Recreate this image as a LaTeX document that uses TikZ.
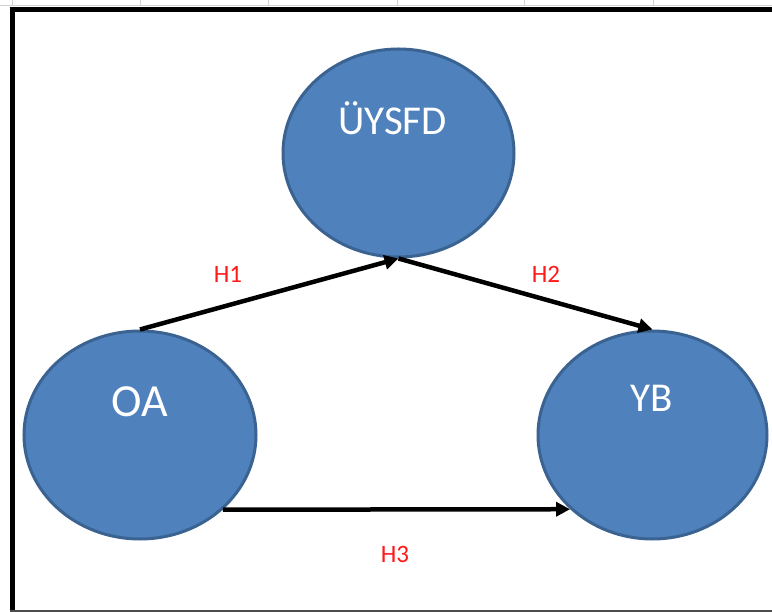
\documentclass[tikz,border=0pt]{standalone}
\usepackage{fontspec}
\setmainfont{Carlito}
\usetikzlibrary{shapes.geometric,arrows.meta}
\definecolor{ofblue}{HTML}{4F81BD}
\definecolor{ofedge}{HTML}{3A6391}
\definecolor{hred}{HTML}{FF1A1A}
\tikzset{
  bubble/.style={ellipse,fill=ofblue,draw=ofedge,line width=3pt,inner sep=0pt},
  btext/.style={text=white,inner sep=0pt},
  hyp/.style={text=hred,font=\fontsize{25}{28}\selectfont,inner sep=0pt},
  link/.style={line width=4.5pt,-{Triangle[length=14pt,width=14pt]}},
  grid/.style={draw=black!18,line width=0.8pt}
}
\begin{document}
\begin{tikzpicture}[x=1pt,y=-1pt]
\useasboundingbox (0,0) rectangle (772,612);
\fill[white] (0,0) rectangle (772,612);
% faint spreadsheet grid at top
\draw[grid] (0,5.5) -- (772,5.5);
\foreach \gx in {12,140,268,397,524,653} \draw[grid] (\gx,0) -- (\gx,5.5);
% frame
\draw[line width=5pt] (9.5,9.5) -- (772,9.5);
\draw[line width=5pt] (12,7) -- (12,612);
\draw[draw=black!70,line width=2pt] (10,610.5) -- (772,610.5);
% nodes
\node[bubble,minimum width=231pt,minimum height=208pt,
  label={[btext,font=\fontsize{41}{44}\selectfont,xshift=-6pt,yshift=35pt]center:ÜYSFD}]
  (U) at (398.5,153) {};
\node[bubble,minimum width=232pt,minimum height=208pt,
  label={[btext,font=\fontsize{46}{48}\selectfont,yshift=33pt]center:OA}]
  (O) at (140,435) {};
\node[bubble,minimum width=229pt,minimum height=208pt,
  label={[btext,font=\fontsize{41}{44}\selectfont,xshift=-1pt,yshift=37pt]center:YB}]
  (Y) at (652.5,435) {};
% connectors
\draw[link] (O.north) -- (U.south);
\draw[link] (U.south) -- (Y.north);
\draw[link] (O.-42) -- (Y.222);
% labels
\node[hyp] (h1) at (228,274) {H1};
\node[hyp] (h2) at (546,274) {H2};
\node[hyp] (h3) at (395,554) {H3};
\end{tikzpicture}
\end{document}
